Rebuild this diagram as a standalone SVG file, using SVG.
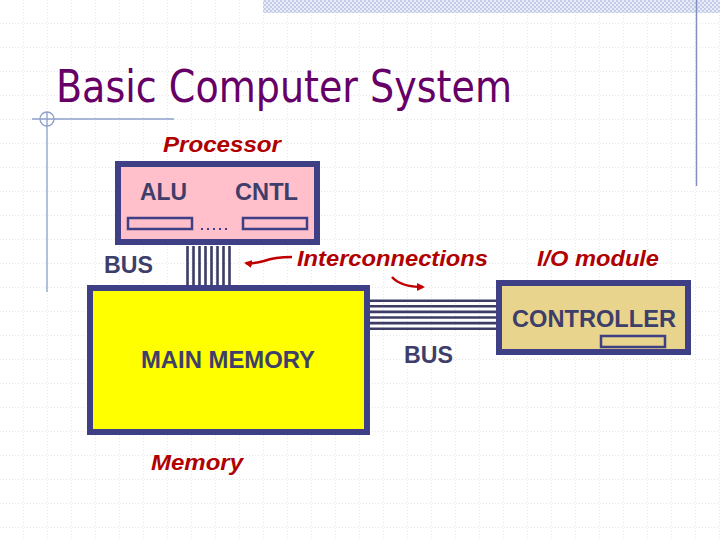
<svg xmlns="http://www.w3.org/2000/svg" width="720" height="540" viewBox="0 0 720 540">
<defs>
<pattern id="grid" width="24" height="24" patternUnits="userSpaceOnUse">
<path d="M24 0V24M0 24H24" fill="none" stroke="#cfcfd8" stroke-width="1" stroke-dasharray="1 2"/>
</pattern>
<pattern id="check" width="4" height="4" patternUnits="userSpaceOnUse">
<rect width="4" height="4" fill="#e8ecf8"/>
<rect width="2" height="2" fill="#c4cce8"/>
<rect x="2" y="2" width="2" height="2" fill="#c4cce8"/>
</pattern>
<marker id="ah" markerWidth="8" markerHeight="8" refX="6" refY="4" orient="auto" markerUnits="userSpaceOnUse">
<path d="M0 0L8 4L0 8Z" fill="#c00000"/>
</marker>
<style>
.box{stroke:#3f3f86;stroke-width:6}
.lbl{font-family:"Liberation Sans",Arial,sans-serif;font-size:23px;font-weight:bold;fill:#3e3e6a}
.red{font-family:"Liberation Sans",Arial,sans-serif;font-size:22px;font-weight:bold;font-style:italic;fill:#b00000}
.bus{stroke:#3c3c66;stroke-width:2.6}
.sm{fill:none;stroke:#3f3f86;stroke-width:2.5}
.arr{fill:none;stroke:#c00000;stroke-width:2.5}
.dot{fill:#3f3f86}
</style>
</defs>
<rect width="720" height="540" fill="#ffffff"/>
<rect width="720" height="540" fill="url(#grid)"/>
<rect x="263" y="0" width="457" height="13" fill="url(#check)"/>
<line x1="696.5" y1="0" x2="696.5" y2="186" stroke="#8090c0" stroke-width="1.5"/>
<g id="deco" fill="none" stroke="#8da0cc" stroke-width="1.3">
<line x1="32" y1="119" x2="174" y2="119"/>
<line x1="47" y1="112" x2="47" y2="292"/>
<circle cx="47" cy="119" r="7"/>
</g>
<text x="56" y="102" font-family="'DejaVu Sans',Verdana,sans-serif" font-size="44" fill="#660066" textLength="456" lengthAdjust="spacingAndGlyphs">Basic Computer System</text>
<g id="connectors">
<g class="bus">
<line x1="187.5" y1="246" x2="187.5" y2="287"/>
<line x1="193.5" y1="246" x2="193.5" y2="287"/>
<line x1="199.5" y1="246" x2="199.5" y2="287"/>
<line x1="205.5" y1="246" x2="205.5" y2="287"/>
<line x1="211.5" y1="246" x2="211.5" y2="287"/>
<line x1="217.5" y1="246" x2="217.5" y2="287"/>
<line x1="223.5" y1="246" x2="223.5" y2="287"/>
<line x1="229.5" y1="246" x2="229.5" y2="287"/>
<line x1="369" y1="300.7" x2="497" y2="300.7"/>
<line x1="369" y1="306.3" x2="497" y2="306.3"/>
<line x1="369" y1="311.9" x2="497" y2="311.9"/>
<line x1="369" y1="317.5" x2="497" y2="317.5"/>
<line x1="369" y1="323.1" x2="497" y2="323.1"/>
<line x1="369" y1="328.7" x2="497" y2="328.7"/>
</g>
<path class="arr" d="M292 257C280 257 272 258 264 261C256 263 252 264 246 263" marker-end="url(#ah)"/>
<path class="arr" d="M392 277C398 284 410 287 423 287" marker-end="url(#ah)"/>
</g>
<g id="processor">
<rect class="box" x="118" y="164" width="199" height="78" fill="#ffc0cb"/>
<text class="lbl" x="140" y="200" textLength="47" lengthAdjust="spacingAndGlyphs">ALU</text>
<text class="lbl" x="235" y="200" textLength="63" lengthAdjust="spacingAndGlyphs">CNTL</text>
<rect class="sm" x="128" y="218" width="64" height="11"/>
<rect class="sm" x="243" y="218" width="64" height="11"/>
<rect class="dot" x="201" y="228" width="2" height="2"/>
<rect class="dot" x="207" y="228" width="2" height="2"/>
<rect class="dot" x="213" y="228" width="2" height="2"/>
<rect class="dot" x="219" y="228" width="2" height="2"/>
<rect class="dot" x="225" y="228" width="2" height="2"/>
</g>
<text class="red" x="163" y="152" textLength="118" lengthAdjust="spacingAndGlyphs">Processor</text>
<text class="lbl" x="104" y="273" textLength="49" lengthAdjust="spacingAndGlyphs">BUS</text>
<text class="red" x="297" y="266" textLength="191" lengthAdjust="spacingAndGlyphs">Interconnections</text>
<text class="red" x="537" y="266" textLength="122" lengthAdjust="spacingAndGlyphs">I/O module</text>
<g id="memory">
<rect class="box" x="90" y="288" width="277" height="144" fill="#ffff00"/>
<text class="lbl" x="141" y="368" textLength="174" lengthAdjust="spacingAndGlyphs">MAIN MEMORY</text>
</g>
<text class="red" x="151" y="470" textLength="92" lengthAdjust="spacingAndGlyphs">Memory</text>
<g id="controller">
<rect class="box" x="499" y="283" width="189" height="69" fill="#e8d48c"/>
<text class="lbl" x="512" y="327" textLength="164" lengthAdjust="spacingAndGlyphs">CONTROLLER</text>
<rect class="sm" x="601" y="336" width="64" height="11"/>
</g>
<text class="lbl" x="404" y="363" textLength="49" lengthAdjust="spacingAndGlyphs">BUS</text>
</svg>
